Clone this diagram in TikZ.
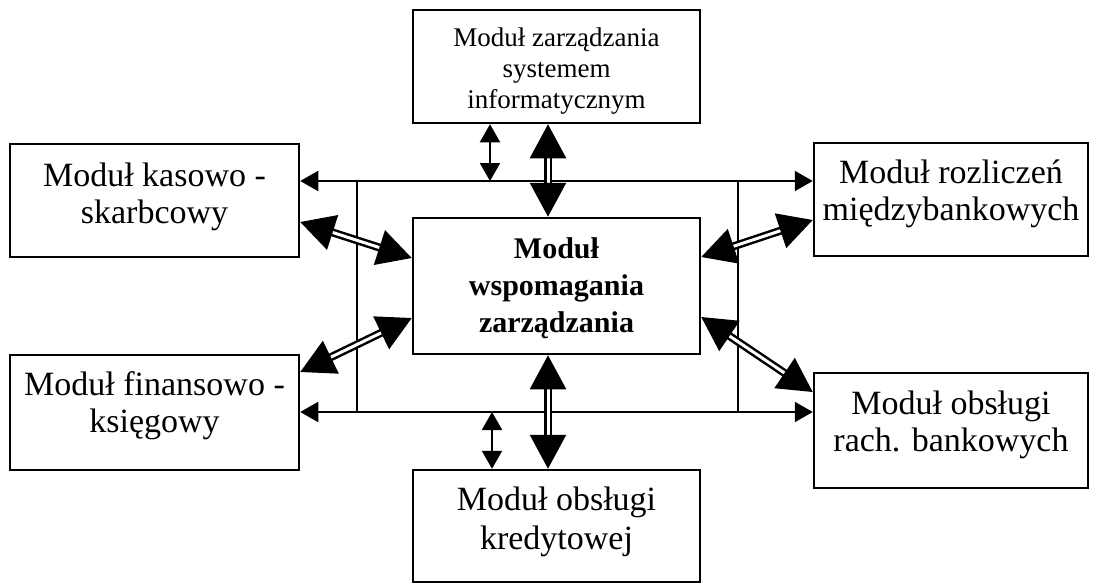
\documentclass[tikz,border=0pt]{standalone}
\usepackage{fontspec}
\setmainfont{Liberation Serif}
\usetikzlibrary{arrows.meta,calc}
\begin{document}
\begin{tikzpicture}[x=1pt,y=-1pt,
  box/.style={draw, line width=2.5pt, rectangle, inner sep=0pt},
  sidetxt/.style={font=\fontsize{34}{37}\selectfont, align=center, anchor=north, inner sep=0pt},
  toptxt/.style={font=\fontsize{27}{31}\selectfont, align=center, anchor=north, inner sep=0pt},
  midtxt/.style={font=\fontsize{30}{37}\selectfont\bfseries, align=center, anchor=north, inner sep=0pt},
  bus/.style={draw, line width=2pt},
  buslink/.style={bus, {Triangle[length=18pt,width=20pt]}-{Triangle[length=18pt,width=20pt]}},
  thinlink/.style={line width=2pt, {Triangle[length=18pt,width=20pt]}-{Triangle[length=18pt,width=20pt]}},
  widelink/.style={double, double distance=3pt, line width=2.5pt, {Triangle[length=34pt,width=36pt]}-{Triangle[length=34pt,width=36pt]}}
]
\useasboundingbox (0,0) rectangle (1095,584);

% module boxes
\node[box, minimum width=287pt, minimum height=113pt] (top) at (556.5,66.5) {};
\node[box, minimum width=289pt, minimum height=113pt] (lt) at (154.5,200.5) {};
\node[box, minimum width=289pt, minimum height=115pt] (lb) at (154.5,412.5) {};
\node[box, minimum width=274pt, minimum height=113pt] (rt) at (951,199.5) {};
\node[box, minimum width=274pt, minimum height=115pt] (rb) at (951,430.5) {};
\node[box, minimum width=287pt, minimum height=136pt] (mid) at (556.5,286) {};
\node[box, minimum width=287pt, minimum height=112pt] (bot) at (556.5,526) {};

% box labels
\node[toptxt] (top-t) at (556.5,27.5) {Moduł zarządzania\\systemem\\informatycznym};
\node[sidetxt] (lt-t) at (154.5,162.5) {Moduł kasowo -\\skarbcowy};
\node[sidetxt] (lb-t) at (154.5,371.5) {Moduł finansowo -\\księgowy};
\node[sidetxt] (rt-t) at (951,160) {Moduł rozliczeń\\międzybankowych};
\node[sidetxt] (rb-t) at (951,390.5) {Moduł obsługi\\rach. bankowych};
\node[midtxt] (mid-t) at (556.5,237.5) {Moduł\\wspomagania\\zarządzania};
\node[sidetxt, font=\fontsize{34}{39}\selectfont] (bot-t) at (556.5,486.5) {Moduł obsługi\\kredytowej};

% bus levels and junctions
\coordinate (ya) at (0,181);
\coordinate (yb) at (0,412);
\coordinate (ja) at (357,181);
\coordinate (jb) at (357,412);
\coordinate (jc) at (738,181);
\coordinate (jd) at (738,412);
\coordinate (sa) at (490,181);
\coordinate (sb) at (492,412);
\coordinate (wx) at (548,0);

% upper and lower buses
\draw[buslink] (lt.east |- ya) -- (rt.west |- ya);
\draw[buslink] (lb.east |- yb) -- (rb.west |- yb);
\draw[bus] (ja) -- (jb);
\draw[bus] (jc) -- (jd);

% thin links between buses and the top/bottom modules
\draw[thinlink] (top.south -| sa) -- (sa);
\draw[thinlink] (sb) -- (bot.north -| sb);

% wide links to the central module
\draw[widelink] (top.south -| wx) -- (mid.north -| wx);
\draw[widelink] (mid.south -| wx) -- (bot.north -| wx);
\draw[widelink] (lt.east |- 0,222) -- (mid.west |- 0,258);
\draw[widelink] (lb.east |- 0,372) -- (mid.west |- 0,318);
\draw[widelink] (rt.west |- 0,220) -- (mid.east |- 0,257);
\draw[widelink] (rb.west |- 0,392) -- (mid.east |- 0,317);
\end{tikzpicture}
\end{document}
